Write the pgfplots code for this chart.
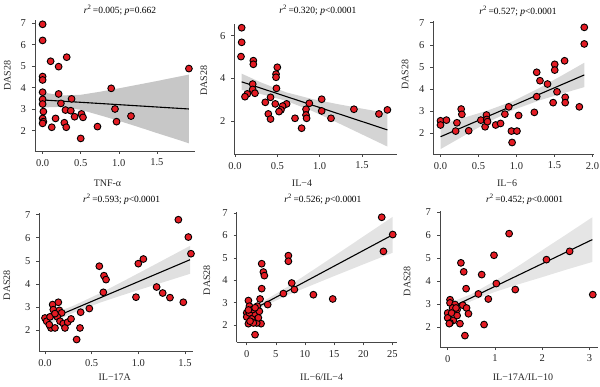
\documentclass[border=0pt]{standalone}
\usepackage{pgfplots}
\pgfplotsset{compat=1.18}
\usepackage{fontspec}
\setmainfont{Liberation Serif}
\definecolor{ptred}{RGB}{228,28,36}
\definecolor{axgray}{RGB}{70,70,70}
\pgfplotsset{
 panel/.style={
  scale only axis,
  axis lines=left,
  axis line style={-, axgray, line width=0.6pt},
  tick style={axgray, line width=0.6pt},
  tick align=outside,
  major tick length=3pt,
  ticklabel style={font=\fontsize{10.5}{12}\selectfont, text=black!85},
  yticklabel style={xshift=-2.5pt},
  xticklabel style={yshift=-1.5pt},
  /pgf/number format/assume math mode=true,
  label style={font=\fontsize{10}{12}\selectfont, text=black!85},
  title style={font=\fontsize{9.5}{11}\selectfont, anchor=center, yshift=-6pt},
  ylabel={DAS28},
  clip=false,
  enlargelimits=false,
 },
 onedec/.style={xticklabel style={/pgf/number format/.cd, fixed, fixed zerofill, precision=1}},
 pts/.style={only marks, mark=*, mark size=3.4pt, mark options={fill=ptred, draw=black, line width=0.9pt}},
 fitline/.style={black, line width=1.1pt, no marks},
 band/.style={draw=none, no marks, fill=#1},
}
\begin{document}
\begin{tikzpicture}
\useasboundingbox (0,0) rectangle (600pt,386pt);
% ---------- Panel 1: TNF-alpha
\begin{axis}[panel, onedec, at={(35pt,235pt)}, anchor=south west,
  width=160pt, height=131pt,
  xmin=-0.1, xmax=2.0, ymin=1.055, ymax=7.15,
  xtick={0,0.5,1,1.5}, ytick={2,3,4,5,6,7},
  title={\textit{r}\textsuperscript{2}\,=0.005; \textit{p}=0.662},
  title style={at={(axis description cs:0.531,1.076)}},
  xlabel={TNF-α},
  xlabel style={at={(axis description cs:0.453,-0.244)}, anchor=center},
  ylabel style={at={(axis description cs:-0.173,0.573)}, anchor=center},
]
\addplot[band=black!22] coordinates {(0,3.78)(0.25,3.64)(0.5,3.67)(0.75,3.81)(1,3.97)(1.25,4.14)(1.5,4.31)(1.75,4.49)(1.92,4.61)
  (1.92,1.41)(1.75,1.61)(1.5,1.89)(1.25,2.18)(1,2.46)(0.75,2.72)(0.5,2.97)(0.25,3.11)(0,3.08)} -- cycle;
\addplot[fitline] coordinates {(0,3.43)(1.92,3.01)};
\addplot[pts] coordinates {(0,6.95)(0,6.2)(0.105,5.23)(0.316,5.42)(0.21,4.98)(0,4.52)(0,4.36)(0,3.79)(0,3.46)(0,3.24)(0.01,2.89)(0,2.57)(0.01,2.42)(0,2.34)(0.21,3.71)(0.38,3.48)(0.24,3.27)(0.30,2.96)(0.37,2.93)(0.17,2.57)(0.285,2.37)(0.12,2.16)(0.31,2.16)(0.42,2.65)(0.51,2.78)(0.53,2.62)(0.50,1.64)(0.72,2.19)(0.90,3.97)(0.95,3.01)(0.97,2.42)(1.16,2.68)(1.92,4.89)};
\end{axis}
% ---------- Panel 2: IL-4
\begin{axis}[panel, onedec, at={(234.3pt,232pt)}, anchor=south west,
  width=162.4pt, height=130pt,
  xmin=-0.008, xmax=1.91, ymin=0.45, ymax=6.55,
  xtick={0,0.5,1,1.5}, ytick={2,4,6},
  title={\textit{r}\textsuperscript{2}\,=0.320; \textit{p}<0.0001},
  title style={at={(axis description cs:0.515,1.108)}},
  xlabel={IL−4},
  xlabel style={at={(axis description cs:0.417,-0.221)}, anchor=center},
  ylabel style={at={(axis description cs:-0.187,0.562)}, anchor=center},
]
\addplot[band=black!17] coordinates {(0.079,4.22)(0.3,3.82)(0.6,3.35)(0.9,3.04)(1.2,2.80)(1.5,2.58)(1.8,2.37)
  (1.8,0.80)(1.5,1.37)(1.2,1.94)(0.9,2.49)(0.6,2.95)(0.3,3.27)(0.079,3.45)} -- cycle;
\addplot[fitline] coordinates {(0.079,3.837)(1.80,1.582)};
\addplot[pts] coordinates {(0.079,6.375)(0.079,5.69)(0.071,5.02)(0.217,4.83)(0.217,4.66)(0.5,4.52)(0.485,4.20)(0.485,4.05)(0.49,3.53)(0.209,3.73)(0.209,3.48)(0.146,3.27)(0.118,3.14)(0.236,3.30)(0.42,3.11)(0.358,2.875)(0.476,2.80)(0.61,2.80)(0.563,2.70)(0.543,2.52)(0.52,2.44)(0.394,2.33)(0.42,2.09)(0.709,2.125)(0.787,1.66)(0.839,2.55)(0.839,2.28)(0.846,2.125)(0.878,2.83)(1.024,3.02)(1.024,2.47)(1.134,2.125)(1.405,2.55)(1.70,2.33)(1.80,2.52)};
\end{axis}
% ---------- Panel 3: IL-6
\begin{axis}[panel, onedec, at={(433.3pt,232pt)}, anchor=south west,
  width=160.7pt, height=133.3pt,
  xmin=-0.095, xmax=2.02, ymin=1.07, ymax=7.09,
  xtick={0,0.5,1,1.5,2}, ytick={2,3,4,5,6,7},
  title={\textit{r}\textsuperscript{2}\,=0.527; \textit{p}<0.0001},
  title style={at={(axis description cs:0.527,1.068)}},
  xlabel={IL−6},
  xlabel style={at={(axis description cs:0.459,-0.22)}, anchor=center},
  ylabel style={at={(axis description cs:-0.176,0.593)}, anchor=center},
]
\addplot[band=black!15] coordinates {(0,2.41)(0.3,2.70)(0.6,3.01)(0.95,3.45)(1.3,4.05)(1.6,4.62)(1.892,5.19)
  (1.892,4.09)(1.6,3.80)(1.3,3.49)(0.95,3.05)(0.6,2.46)(0.3,1.88)(0,1.29)} -- cycle;
\addplot[fitline] coordinates {(0,1.85)(1.892,4.64)};
\addplot[pts] coordinates {(0,2.57)(0,2.38)(0.078,2.60)(0.199,2.105)(0.216,2.48)(0.272,3.10)(0.281,2.86)(0.371,2.12)(0.531,2.60)(0.605,2.83)(0.609,2.63)(0.587,2.30)(0.618,2.53)(0.726,2.38)(0.79,2.45)(0.847,2.87)(0.898,3.20)(0.933,2.105)(0.942,1.59)(1.006,2.105)(1.028,2.81)(1.235,2.95)(1.266,4.76)(1.266,3.66)(1.309,4.38)(1.408,4.23)(1.482,3.39)(1.503,5.12)(1.503,4.86)(1.533,3.88)(1.633,5.28)(1.641,3.63)(1.641,3.39)(1.827,3.20)(1.892,6.79)(1.892,6.04)};
\end{axis}
% ---------- Panel 4: IL-17A
\begin{axis}[panel, onedec, at={(39.3pt,34.7pt)}, anchor=south west,
  width=154pt, height=138.3pt,
  xmin=-0.061, xmax=1.589, ymin=1.09, ymax=7.07,
  xtick={0,0.5,1,1.5}, ytick={2,3,4,5,6,7},
  title={\textit{r}\textsuperscript{2}\,=0.593; \textit{p}<0.0001},
  title style={at={(axis description cs:0.535,1.101)}},
  xlabel={IL−17A},
  xlabel style={at={(axis description cs:0.49,-0.186)}, anchor=center},
  ylabel style={at={(axis description cs:-0.21,0.479)}, anchor=center},
]
\addplot[band=black!12] coordinates {(0,2.60)(0.3,3.05)(0.6,3.62)(0.9,4.25)(1.2,4.89)(1.554,5.65)
  (1.554,4.44)(1.2,3.99)(0.9,3.61)(0.6,3.21)(0.3,2.75)(0,2.18)} -- cycle;
\addplot[fitline] coordinates {(0,2.39)(1.554,5.05)};
\addplot[pts] coordinates {(0,2.53)(0.018,2.39)(0.054,2.58)(0.064,2.10)(0.082,3.11)(0.089,2.89)(0.107,2.10)(0.143,3.21)(0.154,2.86)(0.179,2.75)(0.132,2.58)(0.161,2.39)(0.196,2.29)(0.214,2.10)(0.243,2.35)(0.279,2.49)(0.339,1.60)(0.375,2.10)(0.382,2.78)(0.475,2.94)(0.582,4.77)(0.632,4.36)(0.654,4.19)(0.625,3.64)(0.975,3.43)(1.0,4.88)(1.054,5.08)(1.196,3.87)(1.261,3.61)(1.339,3.41)(1.429,6.78)(1.482,3.21)(1.536,6.03)(1.564,5.31)(0.046,2.24)(0.107,2.72)};
\end{axis}
% ---------- Panel 5: IL-6/IL-4
\begin{axis}[panel, at={(236.7pt,43.7pt)}, anchor=south west,
  width=160pt, height=130pt,
  xmin=-1.72, xmax=25.74, ymin=1.24, ymax=7.03,
  xtick={0,5,10,15,20,25}, ytick={2,3,4,5,6,7},
  title={\textit{r}\textsuperscript{2}\,=0.526; \textit{p}<0.0001},
  title style={at={(axis description cs:0.539,1.102)}},
  xlabel={IL−6/IL−4},
  xlabel style={at={(axis description cs:0.531,-0.267)}, anchor=center},
  ylabel style={at={(axis description cs:-0.186,0.479)}, anchor=center},
]
\addplot[band=black!11] coordinates {(0,2.71)(3,3.09)(7,3.71)(10,4.22)(15,5.08)(20,5.95)(25.06,6.83)
  (25.06,5.23)(20,4.71)(15,4.19)(10,3.66)(7,3.34)(3,2.85)(0,2.39)} -- cycle;
\addplot[fitline] coordinates {(0,2.55)(25.06,6.03)};
\addplot[pts] coordinates {(23.17,6.81)(25.06,6.04)(23.46,5.29)(7.15,5.10)(7.15,4.85)(2.57,4.74)(2.86,4.37)(3.03,4.21)(2.57,3.63)(7.72,3.88)(8.18,3.59)(6.29,3.41)(11.44,3.36)(14.76,3.17)(3.60,2.92)(2.29,3.17)(0.29,3.10)(0.46,2.85)(1.83,2.85)(1.32,2.47)(2.46,2.07)(1.72,2.10)(1.43,1.58)(0.69,2.28)(0.29,2.07)(0,2.55)(0,2.37)(0.46,2.55)(1.03,2.70)(0.86,2.28)(2.0,2.33)(1.14,2.10)(0.57,2.18)(2.17,2.62)(0.29,2.68)(1.43,2.78)};
\end{axis}
% ---------- Panel 6: IL-17A/IL-10
\begin{axis}[panel, at={(440pt,39pt)}, anchor=south west,
  width=158pt, height=135.7pt,
  xmin=-0.162, xmax=3.18, ymin=1.145, ymax=7.04,
  xtick={0,1,2,3}, ytick={2,3,4,5,6,7},
  title={\textit{r}\textsuperscript{2}\,=0.452; \textit{p}<0.0001},
  title style={at={(axis description cs:0.536,1.091)}},
  xlabel={IL−17A/IL−10},
  xlabel style={at={(axis description cs:0.525,-0.221)}, anchor=center},
  ylabel style={at={(axis description cs:-0.209,0.486)}, anchor=center},
]
\addplot[band=black!10] coordinates {(0.05,3.07)(0.5,3.44)(1,4.02)(1.5,4.67)(2,5.35)(2.5,6.02)(3.06,6.78)
  (3.06,4.84)(2.5,4.50)(2,4.18)(1.5,3.87)(1,3.54)(0.5,3.14)(0.05,2.62)} -- cycle;
\addplot[fitline] coordinates {(0.05,2.84)(3.06,5.81)};
\addplot[pts] coordinates {(1.30,6.07)(2.58,5.30)(2.09,4.94)(0.98,5.13)(0.28,4.80)(0.34,4.41)(0.72,4.29)(1.03,3.90)(0.39,3.68)(1.43,3.64)(0.65,3.45)(0.86,3.23)(3.07,3.42)(0.05,3.20)(0.05,3.06)(0.155,2.99)(0.32,2.96)(0.40,2.84)(0.44,2.59)(0.20,2.77)(0.105,2.84)(0,2.62)(0,2.41)(0.084,2.62)(0.12,2.30)(0.20,2.51)(0.05,2.19)(0.26,2.16)(0.77,2.12)(0.365,1.64)(0.176,2.84)(0.035,2.16)};
\end{axis}
\end{tikzpicture}
\end{document}
